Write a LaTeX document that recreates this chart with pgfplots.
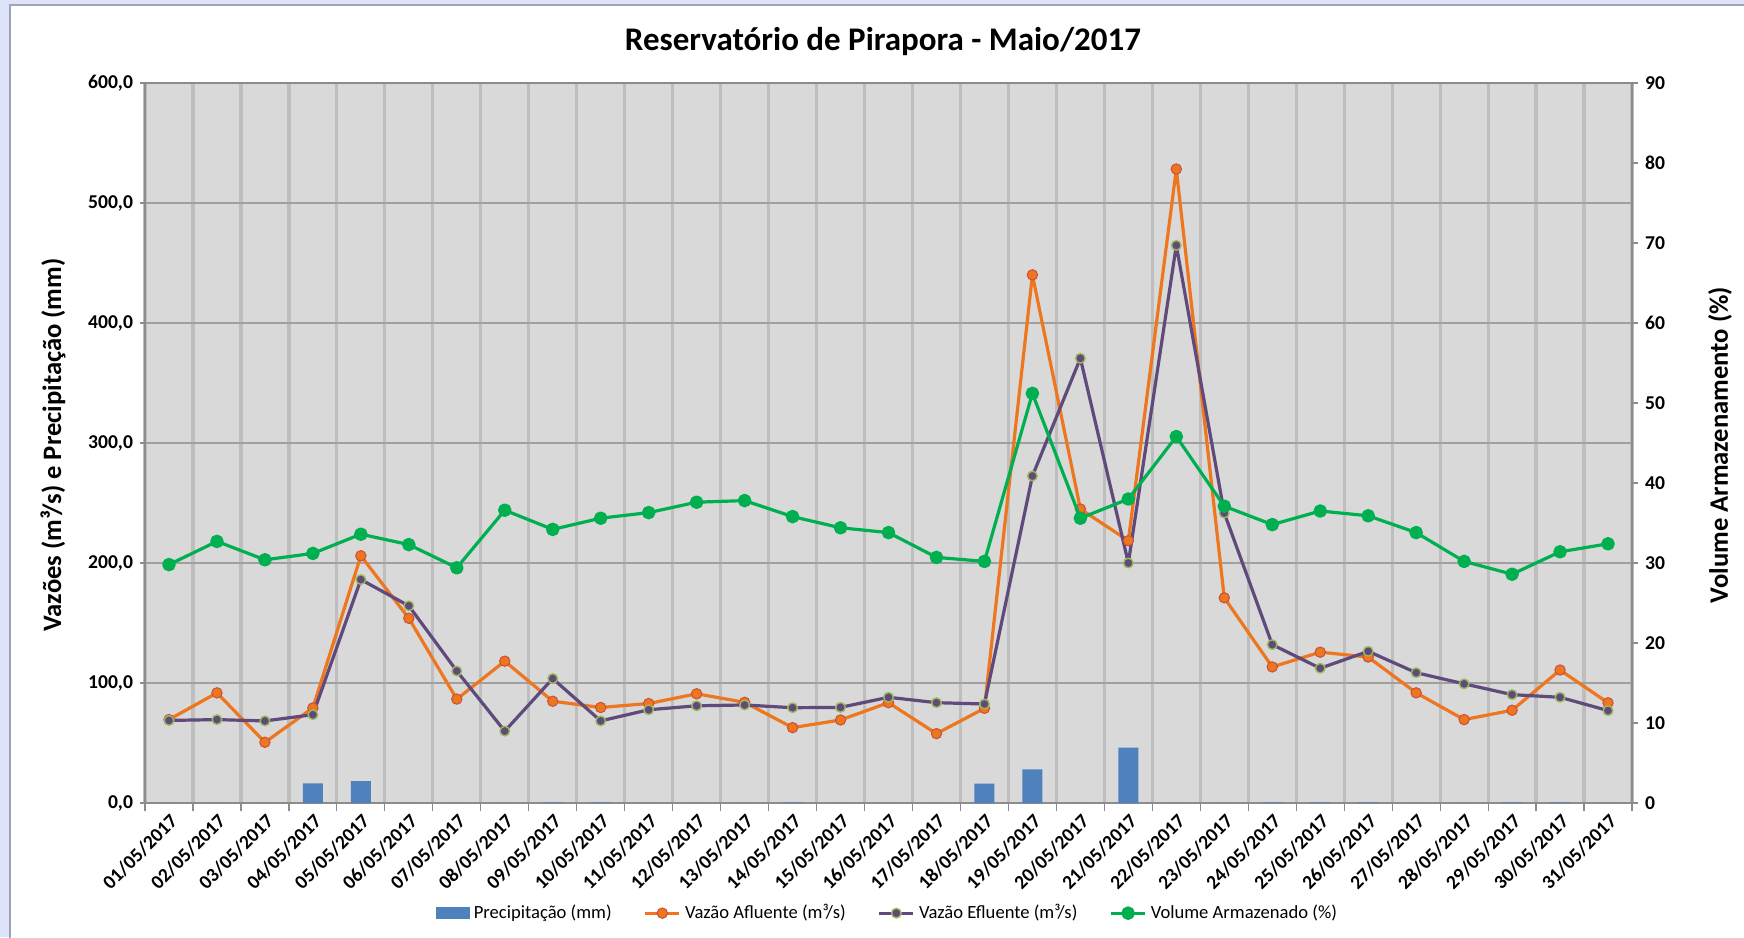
\documentclass[border=0pt]{standalone}
\usepackage{fontspec}
\setmainfont{Carlito}
\usepackage{pgfplots}
\pgfplotsset{compat=1.18}
\definecolor{bgblue}{RGB}{221,228,250}
\definecolor{framegray}{RGB}{160,165,180}
\definecolor{plotgray}{RGB}{217,217,217}
\definecolor{hgrid}{RGB}{160,160,160}
\definecolor{vgrid}{RGB}{190,190,190}
\definecolor{axgray}{RGB}{140,140,140}
\definecolor{barblue}{RGB}{79,129,189}
\definecolor{afl}{RGB}{237,118,30}
\definecolor{aflmk}{RGB}{200,80,60}
\definecolor{efl}{RGB}{96,74,123}
\definecolor{eflmk}{RGB}{155,187,89}
\definecolor{vol}{RGB}{0,176,80}

% day, precipitation (mm), inflow, outflow (m3/s), stored volume (%)
\pgfplotstableread{
day prec afl efl vol
1 0 69.5 68.8 29.8
2 0 91.8 69.5 32.7
3 0 50.6 68.4 30.4
4 16.4 79.2 73.6 31.2
5 18.2 206.0 186.2 33.6
6 0 153.9 164.3 32.3
7 0 86.6 110.0 29.4
8 0 118.2 59.9 36.6
9 0.6 84.8 103.7 34.2
10 0.6 79.6 68.4 35.6
11 0 82.9 77.7 36.3
12 0 91.0 81.0 37.6
13 0 83.9 81.7 37.8
14 0.6 62.8 79.4 35.8
15 0 69.2 79.7 34.4
16 0 83.6 88.1 33.8
17 0 57.8 83.6 30.7
18 16.2 78.9 82.5 30.2
19 28.0 440.1 272.5 51.2
20 0 245.0 370.6 35.6
21 46.1 218.6 200.0 38.0
22 0 528.3 464.7 45.8
23 0 171.0 241.6 37.1
24 0.6 113.4 132.0 34.8
25 0.6 125.7 112.3 36.5
26 0.6 121.6 126.4 35.9
27 0 91.8 108.6 33.8
28 0 69.5 99.3 30.2
29 0.6 77.3 90.3 28.6
30 0.6 110.8 88.1 31.4
31 0 83.5 77.0 32.4
}\dados

\pgfplotsset{
  base/.style={
    width=743.5pt, height=360pt, scale only axis,
    xmin=0.5, xmax=31.5,
    tick align=outside,
    /pgf/number format/assume math mode=true,
    ticklabel style={font=\fontsize{9.8}{11}\selectfont\bfseries},
  },
  serie/.style={line width=1.6pt, line join=round, mark=*},
}

\begin{document}
\begin{tikzpicture}[x=1pt,y=1pt]
\useasboundingbox (-72.5,-67) rectangle (799.5,401.5);
\fill[bgblue] (-72.5,-67) rectangle (799.5,401.5);
\filldraw[fill=white, draw=framegray, line width=0.8pt] (-67.5,-80) rectangle (810,399);

\begin{axis}[base,
    ymin=0, ymax=600, ytick={0,100,...,600},
    yticklabel style={/pgf/number format/.cd, fixed, fixed zerofill, precision=1, use comma, 1000 sep={}},
    xtick={1,...,31},
    xticklabels={01/05/2017,02/05/2017,03/05/2017,04/05/2017,05/05/2017,06/05/2017,07/05/2017,08/05/2017,09/05/2017,10/05/2017,11/05/2017,12/05/2017,13/05/2017,14/05/2017,15/05/2017,16/05/2017,17/05/2017,18/05/2017,19/05/2017,20/05/2017,21/05/2017,22/05/2017,23/05/2017,24/05/2017,25/05/2017,26/05/2017,27/05/2017,28/05/2017,29/05/2017,30/05/2017,31/05/2017},
    xticklabel style={rotate=45, anchor=north east, inner sep=0.5pt, yshift=-1pt, xshift=-1pt},
    minor xtick={0.5,1.5,...,31.5},
    major x tick style={draw=none},
    minor tick length=4pt, major tick length=2.5pt,
    tick style={axgray, line width=0.6pt},
    tick pos=left,
    xminorgrids=true, ymajorgrids=true,
    minor grid style={vgrid, line width=1.6pt},
    major grid style={hgrid, line width=0.7pt},
    axis line style={axgray, line width=0.6pt},
    axis background/.style={fill=plotgray},
]
\addplot[ybar, bar width=10pt, fill=barblue, draw=none] table[x=day, y=prec] {\dados};
\addplot[afl, serie, mark size=2.6pt,
  mark options={fill=afl, draw=aflmk, line width=0.5pt}] table[x=day, y=afl] {\dados};
\addplot[efl, serie, mark size=2.4pt,
  mark options={fill=efl, draw=eflmk, line width=0.7pt}] table[x=day, y=efl] {\dados};
\end{axis}

\begin{axis}[base,
    axis x line=none, axis y line*=right,
    ymin=0, ymax=90, ytick={0,10,...,90},
    major tick length=3pt,
    tick style={axgray, line width=0.6pt},
    axis line style={axgray, line width=0.6pt},
    legend style={at={(0.5,-0.153)}, anchor=center, draw=none, fill=none,
      font=\fontsize{9.3}{11}\selectfont, legend columns=4,
      /tikz/every even column/.append style={column sep=14pt}},
    legend cell align=left,
]
\addlegendimage{legend image code/.code={\fill[barblue] (0pt,-2.8pt) rectangle (16.5pt,2.8pt);}}
\addlegendentry{Precipitação (mm)}
\addlegendimage{afl, serie, mark size=2.6pt, mark options={fill=afl, draw=aflmk, line width=0.5pt}}
\addlegendentry{Vazão Afluente (m³/s)}
\addlegendimage{efl, serie, mark size=2.4pt, mark options={fill=efl, draw=eflmk, line width=0.7pt}}
\addlegendentry{Vazão Efluente (m³/s)}
\addplot[vol, serie, mark size=2.6pt, mark options={fill=vol, draw=vol}]
  table[x=day, y=vol] {\dados};
\addlegendentry{Volume Armazenado (\%)}
\end{axis}

\node[font=\fontsize{16.5}{19}\selectfont\bfseries] at (369,380.5) {Reservatório de Pirapora - Maio/2017};
\node[rotate=90, font=\fontsize{13.3}{15}\selectfont\bfseries] at (-46,179) {Vazões (m³/s) e Precipitação (mm)};
\node[rotate=90, font=\fontsize{13.3}{15}\selectfont\bfseries] at (787.5,179) {Volume Armazenamento (\%)};
\end{tikzpicture}
\end{document}
